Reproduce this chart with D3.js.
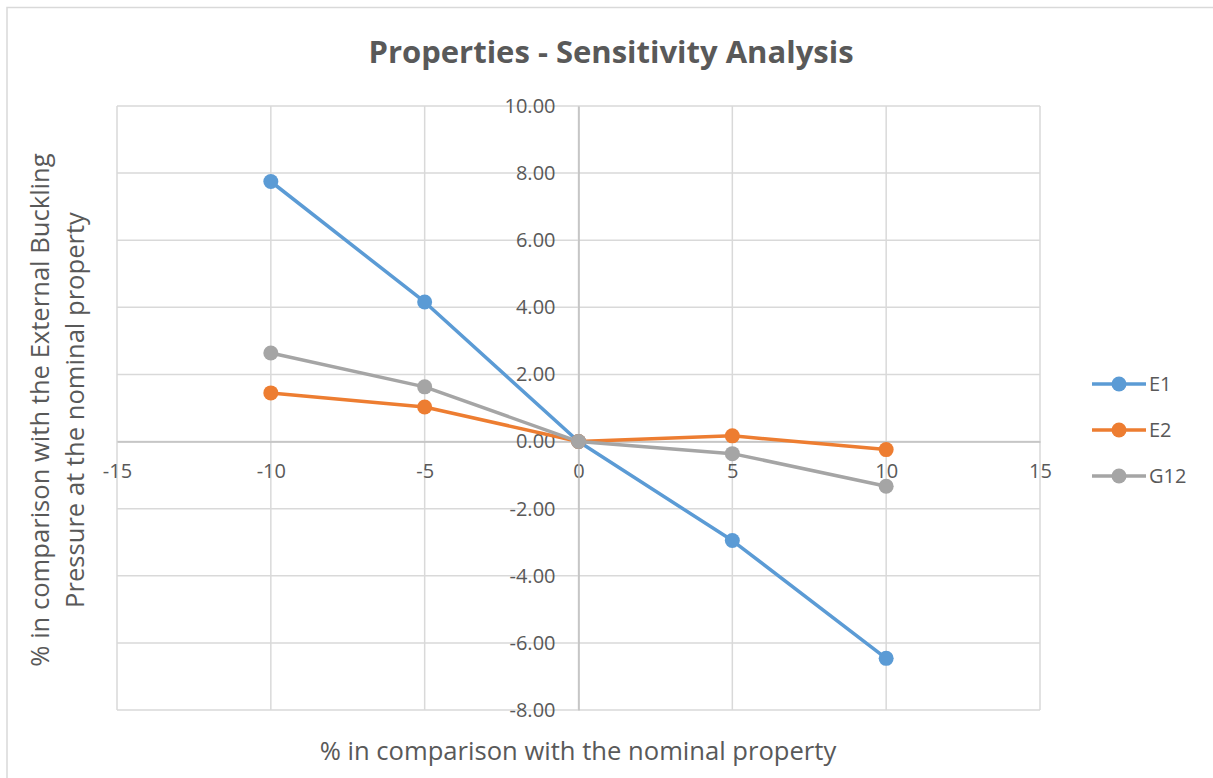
<!DOCTYPE html>
<html>
<head>
<meta charset="utf-8">
<script src="https://cdn.jsdelivr.net/npm/d3@7"></script>
<style>
  html, body { margin: 0; padding: 0; background: #fff; }
  svg { display: block; }
  text { font-family: "Open Sans", Lato, sans-serif; fill: #595959; }
</style>
</head>
<body>
<svg id="chart" width="1213" height="778"></svg>
<script>
// Sensitivity of external buckling pressure to property variations
const xValues = [-10, -5, 0, 5, 10];
const e1 = [7.75, 4.16, 0, -2.95, -6.46];
const e2 = [1.45, 1.03, 0, 0.17, -0.24];
const g12 = [2.64, 1.63, 0, -0.36, -1.33];
const seriesNames = ["E1", "E2", "G12"];
const seriesColors = ["#5b9bd5", "#ed7d31", "#a5a5a5"];
const xTicks = [-15, -10, -5, 0, 5, 10, 15];
const yTicks = [-8, -6, -4, -2, 0, 2, 4, 6, 8, 10];

const series = [e1, e2, g12].map((vals, i) => ({
  name: seriesNames[i],
  color: seriesColors[i],
  points: xValues.map((x, j) => ({ x, y: vals[j] }))
}));

const svg = d3.select("#chart");
const W = 1213, H = 778;
const plot = { left: 117, right: 1040, top: 106, bottom: 710 };
const FONT = "'Open Sans', Lato, sans-serif";

// chart frame
svg.append("path")
  .attr("d", `M7,${H} V7.5 H${W}`)
  .attr("fill", "none")
  .attr("stroke", "#d9d9d9")
  .attr("stroke-width", 1.5);

const x = d3.scaleLinear().domain([-15, 15]).range([plot.left, plot.right]);
const y = d3.scaleLinear().domain([-8, 10]).range([plot.bottom, plot.top]);

// gridlines
const grid = svg.append("g");
grid.selectAll(".gx").data(xTicks).join("line")
  .attr("x1", d => x(d)).attr("x2", d => x(d))
  .attr("y1", plot.top).attr("y2", plot.bottom)
  .attr("stroke", "#d9d9d9").attr("stroke-width", 1.5);
grid.selectAll(".gy").data(yTicks).join("line")
  .attr("x1", plot.left).attr("x2", plot.right)
  .attr("y1", d => y(d)).attr("y2", d => y(d))
  .attr("stroke", "#d9d9d9").attr("stroke-width", 1.5);

// zero axes
const xAxis = d3.axisBottom(x).tickValues(xTicks).tickSize(0).tickPadding(22)
  .tickFormat(d => String(d));
const gx = svg.append("g").attr("transform", `translate(0,${y(0)})`).call(xAxis);
gx.select(".domain").attr("stroke", "#bfbfbf").attr("stroke-width", 1.5);
gx.selectAll("text").attr("font-size", 20).style("fill", "#595959").attr("font-family", FONT);

const yAxis = d3.axisLeft(y).tickValues(yTicks).tickSize(0).tickPadding(23)
  .tickFormat(d => d.toFixed(2));
const gy = svg.append("g").attr("transform", `translate(${x(0)},0)`).call(yAxis);
gy.select(".domain").attr("stroke", "#bfbfbf").attr("stroke-width", 1.5);
gy.selectAll("text").attr("font-size", 20).style("fill", "#595959").attr("font-family", FONT);

// series lines and markers
const line = d3.line().x(d => x(d.x)).y(d => y(d.y));
series.forEach(s => {
  svg.append("path").datum(s.points)
    .attr("d", line)
    .attr("fill", "none")
    .attr("stroke", s.color)
    .attr("stroke-width", 3.5)
    .attr("stroke-linejoin", "round");
  svg.append("g").selectAll("circle").data(s.points).join("circle")
    .attr("cx", d => x(d.x)).attr("cy", d => y(d.y))
    .attr("r", 7.5).attr("fill", s.color);
});

// title
svg.append("text")
  .attr("x", 611).attr("y", 63)
  .attr("text-anchor", "middle")
  .attr("font-size", 31).attr("font-weight", "bold")
  .text("Properties - Sensitivity Analysis");

// axis titles
svg.append("text")
  .attr("x", 578).attr("y", 760)
  .attr("text-anchor", "middle")
  .attr("font-size", 25.6)
  .text("% in comparison with the nominal property");

const yTitle = svg.append("text")
  .attr("transform", "translate(49,410) rotate(-90)")
  .attr("text-anchor", "middle")
  .attr("font-size", 25.6);
yTitle.append("tspan").attr("x", 0).attr("dy", 0).text("% in comparison with the External Buckling");
yTitle.append("tspan").attr("x", 0).attr("dy", 35).text("Pressure at the nominal property");

// legend
const legend = svg.append("g").attr("transform", "translate(1092,384)");
series.forEach((s, i) => {
  const row = legend.append("g").attr("transform", `translate(0,${i * 46})`);
  row.append("line").attr("x1", 0).attr("x2", 54).attr("y1", 0).attr("y2", 0)
    .attr("stroke", s.color).attr("stroke-width", 3.5);
  row.append("circle").attr("cx", 27).attr("cy", 0).attr("r", 7.5).attr("fill", s.color);
  row.append("text").attr("x", 57).attr("y", 7).attr("font-size", 20).text(s.name);
});
</script>
</body>
</html>
